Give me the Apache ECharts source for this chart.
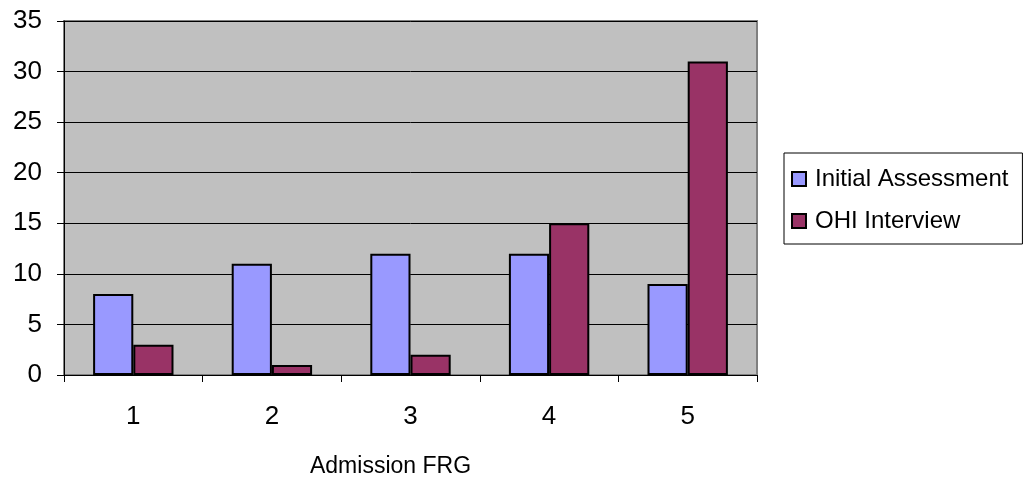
<!DOCTYPE html>
<html>
<head>
<meta charset="utf-8">
<script src="https://cdn.jsdelivr.net/npm/echarts@6/dist/echarts.min.js"></script>
<style>
  html, body { margin: 0; padding: 0; background: #ffffff; }
  #chart { width: 1025px; height: 487px; }
</style>
</head>
<body>
<div id="chart"></div>
<script>
// Admission FRG groups and counts per source
const categories = ['1', '2', '3', '4', '5'];
const initialAssessment = [8, 11, 12, 12, 9];
const ohiInterview = [3, 1, 2, 15, 31];
const yTicks = { min: 0, max: 35, interval: 5 };

const font = 'Liberation Sans, Arial, sans-serif';

const chart = echarts.init(document.getElementById('chart'), null, { renderer: 'canvas' });

chart.setOption({
  animation: false,
  backgroundColor: '#ffffff',
  grid: {
    left: 64, right: 268, top: 21, bottom: 112,
    outerBoundsMode: 'none',
    containLabel: false,
    show: true,
    backgroundColor: '#c0c0c0',
    borderColor: '#808080',
    borderWidth: 2
  },
  legend: {
    orient: 'vertical',
    left: 784, top: 153,
    padding: [14, 14, 11, 7],
    itemGap: 18,
    itemWidth: 14, itemHeight: 14,
    icon: 'rect',
    borderColor: '#000000',
    borderWidth: 1,
    backgroundColor: '#ffffff',
    textStyle: { fontFamily: font, fontSize: 24, lineHeight: 24, color: '#000000', padding: [0, 0, 0, 4] },
    data: ['Initial Assessment', 'OHI Interview']
  },
  xAxis: {
    type: 'category',
    data: categories,
    name: 'Admission FRG',
    nameLocation: 'middle',
    nameGap: 80,
    nameTextStyle: { fontFamily: font, fontSize: 23, color: '#000000', padding: [0, 40, 0, 0] },
    axisLine: { lineStyle: { color: '#000000', width: 1 } },
    axisTick: { show: true, length: 7, lineStyle: { color: '#000000' } },
    axisLabel: { fontFamily: font, fontSize: 26, color: '#000000', margin: 29 }
  },
  yAxis: {
    type: 'value',
    min: yTicks.min, max: yTicks.max, interval: yTicks.interval,
    axisLine: { show: true, lineStyle: { color: '#000000', width: 1 } },
    axisTick: { show: true, length: 7, lineStyle: { color: '#000000' } },
    axisLabel: { fontFamily: font, fontSize: 26, color: '#000000', margin: 22 },
    splitLine: { show: true, lineStyle: { color: '#000000', width: 1 } }
  },
  series: [
    {
      name: 'Initial Assessment',
      type: 'bar',
      data: initialAssessment,
      barGap: '0%',
      barCategoryGap: '42%',
      itemStyle: { color: '#9999ff', borderColor: '#000000', borderWidth: 2 }
    },
    {
      name: 'OHI Interview',
      type: 'bar',
      data: ohiInterview,
      barGap: '0%',
      barCategoryGap: '42%',
      itemStyle: { color: '#993366', borderColor: '#000000', borderWidth: 2 }
    }
  ]
});
</script>
</body>
</html>
